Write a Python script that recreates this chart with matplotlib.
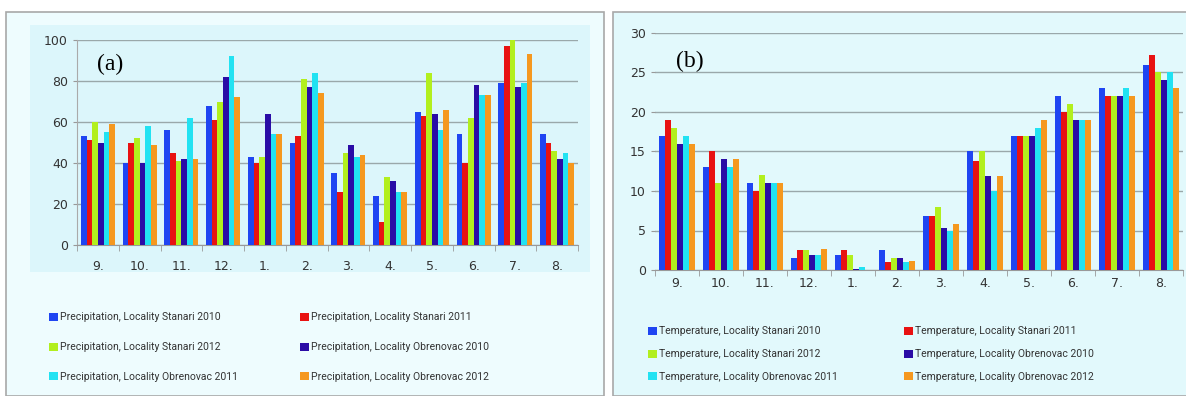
import numpy as np
import matplotlib
matplotlib.use("Agg")
import matplotlib.pyplot as plt
from matplotlib.patches import Rectangle

months = ["9.", "10.", "11.", "12.", "1.", "2.", "3.", "4.", "5.", "6.", "7.", "8."]

# precipitation (mm)
prec_stanari_2010 = [53, 40, 56, 68, 43, 50, 35, 24, 65, 54, 79, 54]
prec_stanari_2011 = [51, 50, 45, 61, 40, 53, 26, 11, 63, 40, 97, 50]
prec_stanari_2012 = [60, 52, 41, 70, 43, 81, 45, 33, 84, 62, 100, 46]
prec_obren_2010 = [50, 40, 42, 82, 64, 77, 49, 31, 64, 78, 77, 42]
prec_obren_2011 = [55, 58, 62, 92, 54, 84, 43, 26, 56, 73, 79, 45]
prec_obren_2012 = [59, 49, 42, 72, 54, 74, 44, 26, 66, 73, 93, 40]

# temperature (C)
temp_stanari_2010 = [17, 13, 11, 1.5, 1.9, 2.5, 6.8, 15, 17, 22, 23, 26]
temp_stanari_2011 = [19, 15, 10, 2.5, 2.5, 1.0, 6.8, 13.8, 17, 20, 22, 27.2]
temp_stanari_2012 = [18, 11, 12, 2.5, 1.9, 1.5, 8, 15, 17, 21, 22, 25]
temp_obren_2010 = [16, 14, 11, 1.9, 0.1, 1.5, 5.3, 11.9, 17, 19, 22, 24.1]
temp_obren_2011 = [17, 13, 11, 1.9, 0.4, 1.0, 4.9, 10, 18, 19, 23, 25]
temp_obren_2012 = [16, 14, 11, 2.7, 0.0, 1.1, 5.8, 11.9, 19, 19, 22, 23]

series_names = ["Locality Stanari 2010", "Locality Stanari 2011", "Locality Stanari 2012",
                "Locality Obrenovac 2010", "Locality Obrenovac 2011", "Locality Obrenovac 2012"]
colors = ["#1f45f2", "#e81212", "#b2ef1e", "#2a0ca6", "#22e2f2", "#f5981f"]

prec = [prec_stanari_2010, prec_stanari_2011, prec_stanari_2012,
        prec_obren_2010, prec_obren_2011, prec_obren_2012]
temp = [temp_stanari_2010, temp_stanari_2011, temp_stanari_2012,
        temp_obren_2010, temp_obren_2011, temp_obren_2012]

W, H = 1186, 396
fig = plt.figure(figsize=(W / 100, H / 100), dpi=100)
fig.patch.set_facecolor("white")

# panel frames, kept behind the axes
fig.patches.append(Rectangle((6 / W, 0), 598 / W, 1 - 12 / H, transform=fig.transFigure,
                             facecolor="#eefcfe", edgecolor="#a8a8a8", lw=1.2, zorder=-5))
fig.patches.append(Rectangle((30 / W, 1 - 272 / H), 560 / W, 247 / H, transform=fig.transFigure,
                             facecolor="#dcf6fb", edgecolor="none", zorder=-4))
fig.patches.append(Rectangle((613 / W, 0), 580 / W, 1 - 12 / H, transform=fig.transFigure,
                             facecolor="#e2f9fc", edgecolor="#a8a8a8", lw=1.2, zorder=-5))

x = np.arange(len(months))
bw = 0.135


def draw(ax, data, ymax, step, label, prefix):
    ax.set_facecolor("none")
    for i, vals in enumerate(data):
        ax.bar(x + (i - 2.5) * bw, vals, width=bw, color=colors[i],
               label=f"{prefix}, {series_names[i]}", zorder=3)
    ax.set_xlim(-0.5, len(months) - 0.5)
    ax.set_ylim(0, ymax)
    ax.set_yticks(np.arange(0, ymax + 1, step))
    ax.yaxis.grid(True, color="#9aa8aa", lw=1, zorder=0)
    ax.set_xticks(x)
    ax.set_xticklabels(months)
    ax.set_xticks(np.arange(-0.5, len(months), 1), minor=True)
    ax.tick_params(axis="x", which="major", length=0, labelsize=9, colors="#333333")
    ax.tick_params(axis="x", which="minor", length=4, color="#999999")
    ax.tick_params(axis="y", length=3, color="#999999", labelsize=9, labelcolor="#333333")
    for s in ["top", "right"]:
        ax.spines[s].set_visible(False)
    ax.spines["left"].set_color("#aaaaaa")
    ax.spines["bottom"].set_color("#999999")
    ax.text(0.04, 0.88, label, transform=ax.transAxes, fontsize=17,
            family="Liberation Serif", va="center", ha="left", zorder=5)


ax1 = fig.add_axes([77 / W, 1 - 245 / H, 501 / W, 205 / H])
draw(ax1, prec, 100, 20, "(a)", "Precipitation")
ax1.tick_params(axis="x", which="major", pad=11)

ax2 = fig.add_axes([655 / W, 1 - 270 / H, 528 / W, 237 / H])
draw(ax2, temp, 30, 5, "(b)", "Temperature")
ax2.tick_params(axis="x", which="major", pad=5)
ax2.spines["left"].set_visible(False)

order = [0, 2, 4, 1, 3, 5]
legend_setup = [(ax1, (40 / W, 1 - 303 / H), 1.9, 5.95),
                (ax2, (639 / W, 1 - 317 / H), 1.23, 6.35)]
for ax, anchor, rowsp, colsp in legend_setup:
    h, l = ax.get_legend_handles_labels()
    fig.legend([h[k] for k in order], [l[k] for k in order], ncol=2, loc="upper left",
               bbox_to_anchor=anchor, frameon=False, handlelength=0.8, handleheight=0.8,
               handletextpad=0.25, columnspacing=colsp, labelspacing=rowsp,
               prop={"family": ["Liberation Sans Narrow", "Roboto"], "size": 7.5},
               labelcolor="#333333")

fig.savefig("out.png", dpi=100)
